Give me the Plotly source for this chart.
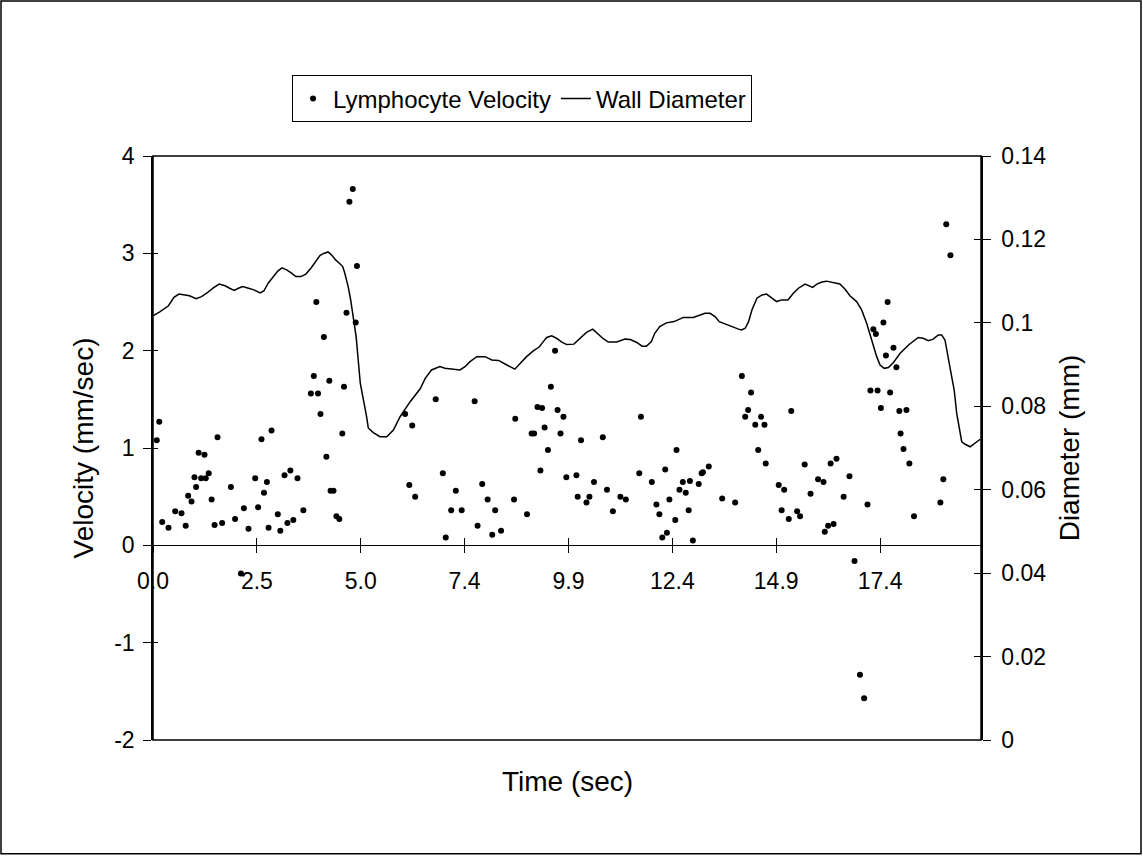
import plotly.graph_objects as go

# ---- data ----
vel_t = [0.09, 0.15, 0.22, 0.37, 0.53, 0.68, 0.78, 0.84, 0.92, 0.99, 1.03, 1.09, 1.15, 1.23, 1.26, 1.33,
         1.40, 1.47, 1.54, 1.65, 1.86, 1.96, 2.10, 2.17, 2.28, 2.44, 2.51, 2.59, 2.65, 2.72, 2.76, 2.83,
         2.98, 3.04, 3.14, 3.21, 3.28, 3.35, 3.45, 3.59, 3.77, 3.84, 3.90, 3.94, 4.00, 4.08, 4.14, 4.21,
         4.24, 4.31, 4.38, 4.45, 4.52, 4.56, 4.62, 4.69, 4.77, 4.84, 4.87, 6.02, 6.12, 6.19, 6.26, 6.75,
         6.92, 6.99, 7.12, 7.23, 7.37, 7.68, 7.75, 7.86, 7.99, 8.10, 8.17, 8.31, 8.62, 8.65, 8.93, 9.04,
         9.10, 9.18, 9.25, 9.29, 9.35, 9.43, 9.50, 9.60, 9.66, 9.73, 9.80, 9.87, 10.11, 10.14, 10.22, 10.35,
         10.42, 10.53, 10.74, 10.84, 10.98, 11.16, 11.29, 11.61, 11.65, 11.91, 12.02, 12.09, 12.16, 12.23,
         12.27, 12.33, 12.47, 12.50, 12.57, 12.65, 12.72, 12.79, 12.82, 12.89, 13.03, 13.10, 13.13, 13.27,
         13.59, 13.90, 14.06, 14.14, 14.21, 14.28, 14.38, 14.45, 14.52, 14.60, 14.63, 14.94, 15.01, 15.07,
         15.18, 15.24, 15.38, 15.45, 15.56, 15.70, 15.88, 16.01, 16.04, 16.12, 16.18, 16.25, 16.32, 16.49,
         16.63, 16.75, 16.88, 16.98, 17.06, 17.13, 17.20, 17.26, 17.30, 17.38, 17.44, 17.50, 17.54, 17.60,
         17.68, 17.75, 17.82, 17.85, 17.92, 17.99, 18.06, 18.17, 18.80, 18.87, 18.94, 19.04]
vel_v = [1.08, 1.27, 0.24, 0.18, 0.35, 0.33, 0.20, 0.51, 0.45, 0.70, 0.60, 0.95, 0.69, 0.93, 0.69, 0.74,
         0.47, 0.21, 1.11, 0.23, 0.60, 0.27, -0.29, 0.38, 0.17, 0.69, 0.39, 1.09, 0.54, 0.65, 0.18, 1.18,
         0.32, 0.15, 0.72, 0.23, 0.77, 0.26, 0.69, 0.36, 1.56, 1.74, 2.50, 1.56, 1.35, 2.14, 0.91, 1.69,
         0.56, 0.56, 0.30, 0.27, 1.15, 1.63, 2.39, 3.53, 3.66, 2.29, 2.87, 1.35, 0.62, 1.23, 0.50, 1.50,
         0.74, 0.08, 0.36, 0.56, 0.36, 1.48, 0.20, 0.63, 0.47, 0.11, 0.36, 0.15, 0.47, 1.30, 0.32, 1.15,
         1.15, 1.42, 0.77, 1.41, 1.21, 0.98, 1.63, 2.00, 1.39, 1.15, 1.32, 0.70, 0.72, 0.50, 1.08, 0.44,
         0.50, 0.65, 1.11, 0.57, 0.35, 0.50, 0.47, 0.74, 1.32, 0.65, 0.42, 0.32, 0.08, 0.78,
         0.13, 0.47, 0.26, 0.98, 0.57, 0.65, 0.54, 0.36, 0.66, 0.05, 0.63, 0.74, 0.75, 0.81,
         0.48, 0.44, 1.74, 1.32, 1.39, 1.57, 1.24, 0.98, 1.32, 1.24, 0.84, 0.62, 0.36, 0.57,
         0.27, 1.38, 0.35, 0.30, 0.83, 0.53, 0.68, 0.65, 0.14, 0.20, 0.84, 0.22, 0.89, 0.50,
         0.71, -0.16, -1.33, -1.57, 0.42, 1.59, 2.22, 2.17, 1.59, 1.41, 2.29, 1.95, 2.50, 1.57,
         2.03, 1.83, 1.38, 1.15, 0.99, 1.39, 0.84, 0.30, 0.44, 0.68, 3.30, 2.98]

diam_t = [0.00, 0.17, 0.37, 0.50, 0.62, 0.72, 0.87, 1.03, 1.16, 1.28, 1.44, 1.58, 1.72, 1.83, 1.94, 2.04,
          2.14, 2.28, 2.41, 2.56, 2.65, 2.75, 2.87, 2.98, 3.08, 3.19, 3.30, 3.41, 3.53, 3.65, 3.77, 3.87,
          3.99, 4.09, 4.18, 4.26, 4.36, 4.45, 4.53, 4.58, 4.66, 4.72, 4.78, 4.85, 4.90, 4.95, 5.10, 5.14,
          5.26, 5.42, 5.58, 5.74, 5.90, 6.14, 6.38, 6.50, 6.65, 6.85, 6.97, 7.13, 7.33, 7.45, 7.57, 7.73,
          7.93, 8.09, 8.25, 8.45, 8.64, 8.76, 8.92, 9.08, 9.22, 9.32, 9.40, 9.52, 9.64, 9.76, 9.88, 10.05,
          10.20, 10.35, 10.50, 10.63, 10.75, 10.87, 11.07, 11.27, 11.40, 11.55, 11.68, 11.78, 11.90, 11.98,
          12.10, 12.26, 12.44, 12.60, 12.66, 12.90, 13.06, 13.18, 13.30, 13.42, 13.52, 13.66, 13.82, 13.98,
          14.05, 14.14, 14.22, 14.30, 14.42, 14.54, 14.65, 14.77, 14.89, 15.01, 15.16, 15.29, 15.41, 15.57,
          15.65, 15.75, 15.85, 15.97, 16.08, 16.24, 16.40, 16.52, 16.64, 16.80, 16.92, 17.04, 17.16, 17.28,
          17.36, 17.46, 17.56, 17.68, 17.84, 18.04, 18.27, 18.39, 18.51, 18.63, 18.75, 18.83, 18.91, 18.99,
          19.07, 19.13, 19.19, 19.31, 19.39, 19.51, 19.63, 19.75]
diam_d = [0.1017, 0.1027, 0.1041, 0.1061, 0.1069, 0.1068, 0.1065, 0.1058, 0.1063, 0.1071, 0.1084, 0.1093,
          0.1089, 0.1083, 0.1078, 0.1083, 0.1087, 0.1083, 0.1079, 0.1072, 0.1077, 0.1095, 0.1111, 0.1124,
          0.1132, 0.1127, 0.1120, 0.1111, 0.1111, 0.1117, 0.1131, 0.1145, 0.1162, 0.1167, 0.1170, 0.1163,
          0.1151, 0.1143, 0.1135, 0.1119, 0.1087, 0.1055, 0.1015, 0.0967, 0.0911, 0.0855, 0.0775, 0.0748,
          0.0737, 0.0727, 0.0727, 0.0743, 0.0775, 0.0811, 0.0842, 0.0867, 0.0887, 0.0895, 0.0891, 0.0890,
          0.0887, 0.0895, 0.0907, 0.0919, 0.0919, 0.0911, 0.0910, 0.0899, 0.0889, 0.0902, 0.0919, 0.0933,
          0.0942, 0.0955, 0.0965, 0.0969, 0.0963, 0.0954, 0.0948, 0.0949, 0.0963, 0.0977, 0.0985, 0.0973,
          0.0962, 0.0954, 0.0954, 0.0961, 0.0960, 0.0953, 0.0944, 0.0944, 0.0955, 0.0975, 0.0991, 0.1000,
          0.1003, 0.1010, 0.1013, 0.1013, 0.1019, 0.1023, 0.1023, 0.1015, 0.1003, 0.0997, 0.0991, 0.0985,
          0.0983, 0.0987, 0.1003, 0.1031, 0.1059, 0.1067, 0.1069, 0.1059, 0.1051, 0.1055, 0.1055, 0.1071,
          0.1083, 0.1093, 0.1089, 0.1085, 0.1093, 0.1098, 0.1100, 0.1097, 0.1093, 0.1081, 0.1065, 0.1051,
          0.1031, 0.0999, 0.0959, 0.0919, 0.0899, 0.0891, 0.0893, 0.0905, 0.0927, 0.0947, 0.0965, 0.0963,
          0.0957, 0.0961, 0.0971, 0.0971, 0.0959, 0.0919, 0.0871, 0.0839, 0.0783, 0.0715, 0.0709, 0.0703,
          0.0712, 0.0721]

x_tickvals = [0.0, 2.48, 4.96, 7.44, 9.92, 12.40, 14.88, 17.36]
x_ticktext = ["0.0", "2.5", "5.0", "7.4", "9.9", "12.4", "14.9", "17.4"]
y_tickvals = [-2, -1, 0, 1, 2, 3, 4]
y_ticktext = ["-2", "-1", "0", "1", "2", "3", "4"]
y2_tickvals = [0, 0.02, 0.04, 0.06, 0.08, 0.10, 0.12, 0.14]
y2_ticktext = ["0", "0.02", "0.04", "0.06", "0.08", "0.1", "0.12", "0.14"]

X_RANGE = [0, 19.77]
Y_RANGE = [-2, 4]
Y2_RANGE = [0, 0.14]

FONT = "Liberation Sans, Arial, sans-serif"
TICK_FONT = dict(family=FONT, size=23, color="black")
TITLE_FONT = dict(family=FONT, size=28, color="black")

fig = go.Figure()
fig.add_trace(go.Scatter(x=vel_t, y=vel_v, mode="markers", name="Lymphocyte Velocity",
                         marker=dict(color="black", size=6), xaxis="x", yaxis="y"))
fig.add_trace(go.Scatter(x=diam_t, y=diam_d, mode="lines", name="Wall Diameter",
                         line=dict(color="black", width=1.5), xaxis="x", yaxis="y2"))
# helper empty traces so overlay axes (inside tick halves) are drawn
fig.add_trace(go.Scatter(x=[], y=[], xaxis="x2", yaxis="y3", showlegend=False, hoverinfo="skip"))
fig.add_trace(go.Scatter(x=[], y=[], xaxis="x2", yaxis="y4", showlegend=False, hoverinfo="skip"))

zero_pos = (0 - Y_RANGE[0]) / (Y_RANGE[1] - Y_RANGE[0])

common_x = dict(range=X_RANGE, tickvals=x_tickvals, showgrid=False, zeroline=False,
                tickcolor="black", tickwidth=1)
fig.update_layout(
    width=1143, height=856,
    margin=dict(l=153, r=162, t=156, b=116),
    paper_bgcolor="white", plot_bgcolor="white",
    font=dict(family=FONT, color="black"),
    showlegend=True,
    legend=dict(orientation="h", x=0.4457, xanchor="center", y=1.138, yanchor="top",
                bgcolor="white", bordercolor="black", borderwidth=1,
                font=dict(family=FONT, size=24, color="black")),
    xaxis=dict(**common_x, ticktext=x_ticktext, ticks="outside", ticklen=7,
               anchor="free", position=zero_pos, showline=True, linecolor="black", linewidth=1,
               tickfont=TICK_FONT, ticklabelstandoff=8),
    xaxis2=dict(**common_x, overlaying="x", ticks="inside", ticklen=7, showticklabels=False,
                anchor="free", position=zero_pos, showline=False),
    yaxis=dict(range=Y_RANGE, tickvals=y_tickvals, ticktext=y_ticktext, ticks="outside", ticklen=8,
               tickcolor="black", showline=True, linecolor="black", linewidth=1.5, showgrid=False,
               zeroline=False, tickfont=TICK_FONT, ticklabelstandoff=4,
               title=dict(text="Velocity (mm/sec)", font=TITLE_FONT, standoff=12)),
    yaxis2=dict(range=Y2_RANGE, tickvals=y2_tickvals, ticktext=y2_ticktext, overlaying="y", side="right",
                ticks="outside", ticklen=8, tickcolor="black", showline=True, linecolor="black",
                linewidth=1.5, showgrid=False, zeroline=False, tickfont=TICK_FONT, ticklabelstandoff=6,
                anchor="x",
                title=dict(text="Diameter (mm)", font=TITLE_FONT, standoff=14)),
    yaxis3=dict(range=Y_RANGE, tickvals=y_tickvals, overlaying="y", side="left", ticks="inside",
                ticklen=5, tickcolor="black", showticklabels=False, showgrid=False, zeroline=False,
                showline=False, anchor="x"),
    yaxis4=dict(range=Y2_RANGE, tickvals=y2_tickvals, overlaying="y", side="right", ticks="inside",
                ticklen=7, tickcolor="black", showticklabels=False, showgrid=False, zeroline=False,
                showline=False, anchor="x"),
)

# plot-area frame and outer chart border
fig.add_shape(type="rect", xref="paper", yref="paper", x0=0, x1=1, y0=0, y1=1,
              line=dict(color="black", width=1.5), layer="above")
fig.add_shape(type="rect", xref="paper", yref="paper",
              x0=(1 - 153) / 828, x1=(1141 - 153) / 828,
              y0=(740.3 - 854) / 584.3, y1=(740.3 - 1) / 584.3,
              line=dict(color="black", width=1.5))

fig.add_annotation(text="Time (sec)", xref="paper", yref="paper", x=0.5, y=(740.3 - 782) / 584.3,
                   yanchor="middle", showarrow=False, font=TITLE_FONT)

fig.write_html("out.html")
